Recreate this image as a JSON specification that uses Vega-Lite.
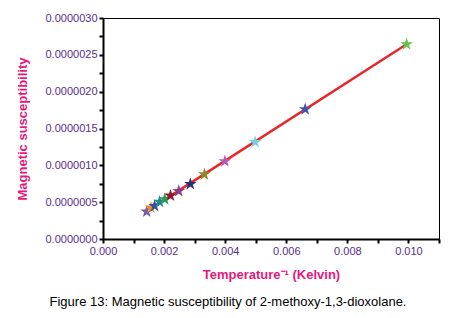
{
  "$schema": "https://vega.github.io/schema/vega-lite/v6.json",
  "width": 336,
  "height": 221,
  "autosize": "none",
  "padding": {"left": 103, "top": 18, "right": 13, "bottom": 79},
  "background": "white",
  "config": {
    "font": "Liberation Sans",
    "view": {"stroke": "black", "strokeWidth": 1},
    "axis": {"labelOverlap": false, "labelSeparation": 0}
  },
  "title": {
    "text": "Figure 13: Magnetic susceptibility of 2-methoxy-1,3-dioxolane.",
    "orient": "bottom",
    "anchor": "middle",
    "frame": "bounds",
    "fontSize": 13,
    "fontWeight": "normal",
    "color": "black",
    "offset": 15
  },
  "datasets": {
    "points": [
      {"invT": 0.00143, "chi": 0.000000371, "series": "700 K"},
      {"invT": 0.00157, "chi": 0.000000425, "series": "650 K"},
      {"invT": 0.00169, "chi": 0.000000448, "series": "600 K"},
      {"invT": 0.00185, "chi": 0.000000506, "series": "550 K"},
      {"invT": 0.00202, "chi": 0.000000539, "series": "500 K"},
      {"invT": 0.00221, "chi": 0.000000588, "series": "450 K"},
      {"invT": 0.00248, "chi": 0.000000652, "series": "400 K"},
      {"invT": 0.00286, "chi": 0.000000747, "series": "350 K"},
      {"invT": 0.00332, "chi": 0.000000878, "series": "300 K"},
      {"invT": 0.00399, "chi": 0.000001055, "series": "250 K"},
      {"invT": 0.00498, "chi": 0.000001317, "series": "200 K"},
      {"invT": 0.00662, "chi": 0.000001761, "series": "150 K"},
      {"invT": 0.00994, "chi": 0.000002643, "series": "100 K"}
    ],
    "fit": [
      {"invT": 0.00143, "chi": 0.000000378},
      {"invT": 0.00994, "chi": 0.000002643}
    ]
  },
  "encoding": {
    "x": {
      "field": "invT", "type": "quantitative",
      "scale": {"domain": [0, 0.011], "nice": false},
      "axis": {
        "title": "Temperature⁻¹ (Kelvin)",
        "values": [0, 0.001, 0.002, 0.003, 0.004, 0.005, 0.006, 0.007, 0.008, 0.009, 0.010, 0.011],
        "labelExpr": "round(datum.value*1000) % 2 == 0 ? format(datum.value, '.3f') : ''",
        "tickSize": 4,
        "tickColor": "black",
        "tickWidth": 2,
        "domainColor": "black",
        "domainWidth": 2,
        "grid": false,
        "labelColor": "#5a2d8c",
        "labelFontSize": 11,
        "labelPadding": 2,
        "labelFlush": false,
        "titleColor": "#e5197d",
        "titleFontSize": 13,
        "titleFontWeight": "bold",
        "titlePadding": 12
      }
    },
    "y": {
      "field": "chi", "type": "quantitative",
      "scale": {"domain": [0, 0.000003], "nice": false},
      "axis": {
        "title": "Magnetic susceptibility",
        "values": [0, 0.00000025, 0.0000005, 0.00000075, 0.000001, 0.00000125, 0.0000015, 0.00000175, 0.000002, 0.00000225, 0.0000025, 0.00000275, 0.000003],
        "labelExpr": "round(datum.value*4000000) % 2 == 0 ? format(datum.value, '.7f') : ''",
        "tickSize": 4,
        "tickColor": "black",
        "tickWidth": 2,
        "domainColor": "black",
        "domainWidth": 2,
        "grid": false,
        "labelColor": "#5a2d8c",
        "labelFontSize": 11,
        "labelPadding": 2,
        "labelFlush": false,
        "titleColor": "#e5197d",
        "titleFontSize": 13,
        "titleFontWeight": "bold",
        "titlePadding": 16
      }
    }
  },
  "layer": [
    {
      "data": {"name": "fit"},
      "mark": {"type": "line", "color": "#e8262a", "strokeWidth": 2.5}
    },
    {
      "data": {"name": "points"},
      "mark": {"type": "point", "shape": "M0,-1L0.2245,-0.309L0.951,-0.309L0.363,0.118L0.588,0.809L0,0.382L-0.588,0.809L-0.363,0.118L-0.951,-0.309L-0.2245,-0.309Z", "filled": true, "opacity": 1, "size": 180},
      "encoding": {
        "color": {
          "field": "series", "type": "nominal", "legend": null,
          "scale": {
            "domain": ["700 K", "650 K", "600 K", "550 K", "500 K", "450 K", "400 K", "350 K", "300 K", "250 K", "200 K", "150 K", "100 K"],
            "range": ["#7a5aa8", "#f0922e", "#3c4f9e", "#1d8a8e", "#2e9a5a", "#8b1a2b", "#8a3a8c", "#2b2d7a", "#8a8a2a", "#b45cb8", "#72d2e2", "#3f56a6", "#6cc04a"]
          }
        }
      }
    }
  ]
}
